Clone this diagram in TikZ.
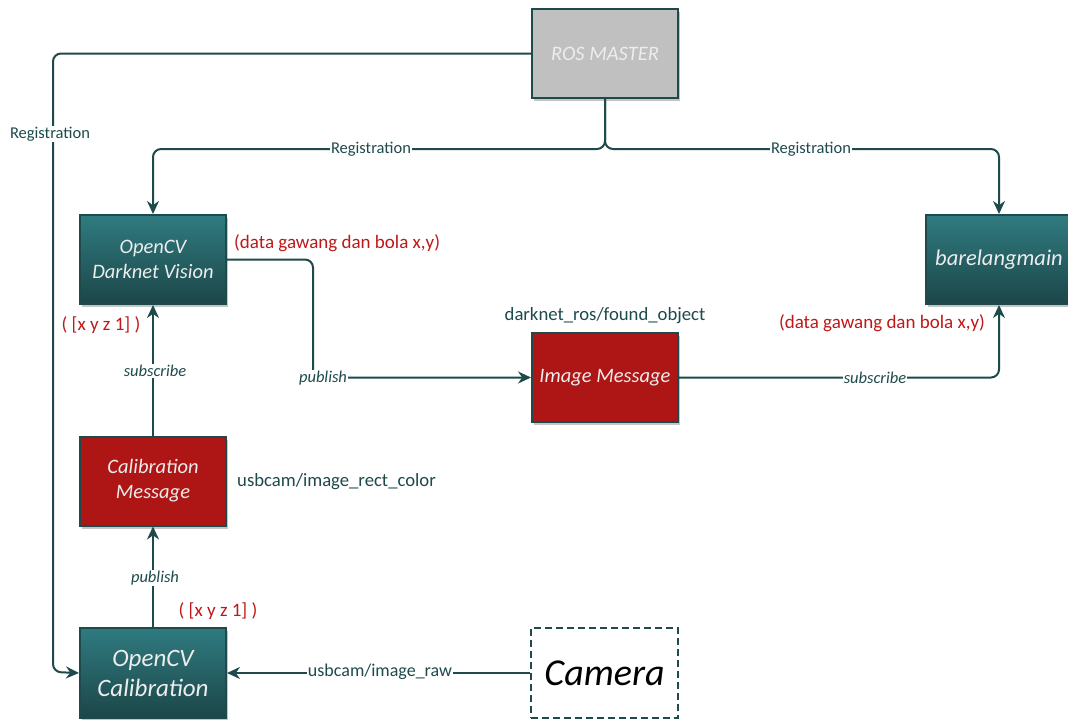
\documentclass[tikz,border=0pt]{standalone}
\usepackage{fontspec}
\setmainfont{Carlito}
\usetikzlibrary{arrows.meta,shadows}
\definecolor{lineteal}{HTML}{1E4A4C}
\definecolor{tealtop}{HTML}{2F7B80}
\definecolor{tealbot}{HTML}{1C4648}
\definecolor{boxred}{HTML}{AE1515}
\definecolor{txtred}{HTML}{C01818}
\definecolor{rosgray}{HTML}{C0C0C0}
\tikzset{
  box/.style={draw=lineteal, line width=2pt, minimum width=146pt, minimum height=89pt,
    align=center, text=white!93!black, font=\itshape\fontsize{20.5}{25}\selectfont,
    drop shadow={opacity=0.45, shadow xshift=2pt, shadow yshift=-3pt}},
  tealbox/.style={box, top color=tealtop, bottom color=tealbot},
  redbox/.style={box, fill=boxred},
  graybox/.style={box, fill=rosgray},
  conn/.style={draw=lineteal, line width=2pt, rounded corners=8pt, -{Stealth[length=13pt,width=12pt]}},
  lbl/.style={fill=white, inner sep=1pt, text=lineteal, font=\fontsize{16.5}{18}\selectfont},
  ilbl/.style={lbl, font=\itshape\fontsize{16.5}{18}\selectfont},
  topic/.style={text=lineteal, inner sep=0pt, font=\fontsize{18.7}{20}\selectfont},
  redlbl/.style={text=txtred, inner sep=0pt, font=\fontsize{19}{20}\selectfont},
}
\begin{document}
\begin{tikzpicture}[x=1pt,y=-1pt]
\clip (0,0) rectangle (1068,720);
\fill[white] (0,0) rectangle (1068,720);

\node[graybox] (ros) at (605,53.5) {ROS MASTER};
\node[tealbox] (dark) at (153,259.5) {OpenCV\\Darknet Vision};
\node[tealbox, font=\itshape\fontsize{22.5}{26}\selectfont] (bare) at (999,259.5) {barelangmain};
\node[redbox] (img) at (605,377.5) {Image Message};
\node[redbox] (calmsg) at (153,481) {Calibration\\Message};
\node[tealbox, minimum height=90pt, font=\itshape\fontsize{25}{30}\selectfont] (calib) at (153,673) {OpenCV\\Calibration};
\node[draw=lineteal, line width=2pt, dash pattern=on 7pt off 4pt, minimum width=147pt, minimum height=90pt,
  text=black, font=\itshape\fontsize{38}{40}\selectfont] (cam) at (604.5,673) {Camera};

% ROS registration
\coordinate (l1) at (53,53.5);
\coordinate (l2) at (53,672);
\draw[conn] (ros.west) -- (l1) -- (l2) -- (calib.west);
\node[lbl] (reg0) at (50,134) {Registration};

\coordinate (j) at (605,149);
\coordinate (jl) at (153,149);
\coordinate (jr) at (999,149);
\draw[conn] (ros.south) -- (j) -- (jl) -- (dark.north);
\draw[conn] (ros.south) -- (j) -- (jr) -- (bare.north);
\node[lbl] (reg1) at (371,149) {Registration};
\node[lbl] (reg2) at (811,149) {Registration};

% Darknet -> Image
\coordinate (d1) at (313,259.5);
\coordinate (d2) at (313,377.5);
\draw[conn] (dark.east) -- (d1) -- (d2) -- (img.west);
\node[ilbl] (pub1) at (323,378) {publish};

% Image -> barelangmain
\coordinate (i1) at (999,377.5);
\draw[conn] (img.east) -- (i1) -- (bare.south);
\node[ilbl] (sub1) at (875,378) {subscribe};

% vertical left chain
\draw[conn] (calmsg.north) -- (dark.south);
\node[ilbl] (sub2) at (155,371) {subscribe};
\draw[conn] (calib.north) -- (calmsg.south);
\node[ilbl] (pub2) at (155,578) {publish};

% camera
\draw[conn] (cam.west) -- (calib.east);
\node[lbl, font=\fontsize{18}{20}\selectfont] (raw) at (380,672) {usbcam/image\_raw};

% text labels
\node[redlbl, anchor=west] (r1) at (234,243) {(data gawang dan bola x,y)};
\node[redlbl] (r2) at (101,325) {( [x y z 1] )};
\node[topic] (t1) at (605,316) {darknet\_ros/found\_object};
\node[redlbl] (r3) at (882,323) {(data gawang dan bola x,y)};
\node[topic, anchor=west] (t2) at (237,482) {usbcam/image\_rect\_color};
\node[redlbl] (r4) at (218,611) {( [x y z 1] )};
\end{tikzpicture}
\end{document}
